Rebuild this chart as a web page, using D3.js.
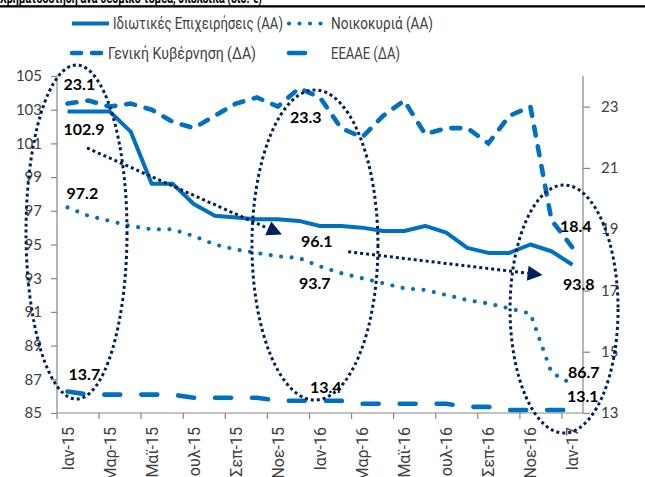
<!DOCTYPE html>
<html>
<head>
<meta charset="utf-8">
<script src="https://cdn.jsdelivr.net/npm/d3@7"></script>
<style>
  html, body { margin: 0; padding: 0; background: #fff; overflow: hidden; }
  svg { display: block; }
</style>
</head>
<body>
<svg id="chart" width="645" height="477"></svg>
<script>
// ---------- DATA ----------
const months = ["Ιαν-15","Φεβ-15","Μαρ-15","Απρ-15","Μαϊ-15","Ιουν-15","Ιουλ-15","Αυγ-15","Σεπ-15","Οκτ-15","Νοε-15","Δεκ-15",
                "Ιαν-16","Φεβ-16","Μαρ-16","Απρ-16","Μαϊ-16","Ιουν-16","Ιουλ-16","Αυγ-16","Σεπ-16","Οκτ-16","Νοε-16","Δεκ-16","Ιαν-17"];
const business   = [102.9,102.9,102.9,101.7,98.6,98.6,97.4,96.7,96.6,96.5,96.5,96.4,96.1,96.1,96.0,95.8,95.8,96.1,95.7,94.8,94.5,94.5,95.0,94.6,93.8];
const households = [97.2,96.7,96.4,96.1,95.9,95.9,95.5,95.0,94.7,94.5,94.3,94.2,93.7,93.3,93.0,92.7,92.4,92.3,92.0,91.7,91.5,91.2,90.9,87.4,86.7];
const government = [23.1,23.2,23.0,23.1,22.9,22.5,22.3,22.7,23.1,23.3,23.0,23.6,23.3,22.3,22.0,22.7,23.2,22.1,22.3,22.3,21.8,22.7,23.0,19.3,18.4];
const eeaae      = [13.7,13.6,13.6,13.6,13.6,13.6,13.5,13.5,13.5,13.5,13.4,13.4,13.4,13.4,13.3,13.3,13.3,13.3,13.3,13.2,13.2,13.1,13.1,13.1,13.1];
const leftTicks  = [85,87,89,91,93,95,97,99,101,103,105];
const rightTicks = [13,15,17,19,21,23];
const seriesNames = ["Ιδιωτικές Επιχειρήσεις (ΑΑ)","Νοικοκυριά (ΑΑ)","Γενική Κυβέρνηση (ΔΑ)","ΕΕΑΑΕ (ΔΑ)"];
const titleText = "Χρηματοδότηση ανά θεσμικό τομέα, υπόλοιπα (δισ. €)";

// ---------- SETUP ----------
const svg = d3.select("#chart");
const BLUE = "#0070C0", NAVY = "#002060", AXIS = "#868686", TXT = "#404040";
const NUMFONT = "Lato, 'Open Sans', sans-serif";
const GRFONT = "Roboto, 'Noto Sans', 'Open Sans', sans-serif";

const x = d3.scaleBand().domain(months).range([57, 583]).padding(0);
const xi = d3.scaleLinear().domain([0, months.length]).range([57, 583]);
const xc = i => x(months[i]) + x.bandwidth() / 2;
const yL = d3.scaleLinear().domain([85, 105]).range([413, 76]);
const yR = d3.scaleLinear().domain([13, 24]).range([413, 76]);

svg.append("rect").attr("width", 645).attr("height", 477).attr("fill", "#fff");

// title (mostly cut off at the top edge, as in the reference) + rule
svg.append("text").attr("x", 0).attr("y", 2.5)
  .attr("font-family", GRFONT).attr("font-weight", "bold").attr("font-size", 15).attr("fill", "#000")
  .attr("textLength", 262).attr("lengthAdjust", "spacingAndGlyphs")
  .text(titleText);
svg.append("rect").attr("x", 0).attr("y", 5.2).attr("width", 645).attr("height", 2.3).attr("fill", "#000");

// ---------- AXES ----------
const gL = svg.append("g").attr("transform", "translate(57,0)")
  .call(d3.axisLeft(yL).tickValues(leftTicks).tickSize(6).tickPadding(9).tickFormat(d3.format("d")));
const gR = svg.append("g").attr("transform", "translate(583,0)")
  .call(d3.axisRight(yR).tickValues(rightTicks).tickSize(7).tickPadding(11).tickFormat(d3.format("d")));
[gL, gR].forEach(g => {
  g.select(".domain").attr("stroke", AXIS).attr("stroke-width", 1.2);
  g.selectAll(".tick line").attr("stroke", AXIS).attr("stroke-width", 1.2);
  g.selectAll(".tick text").attr("font-family", NUMFONT).attr("font-size", 15).attr("fill", TXT);
});
gR.select(".domain").attr("d", `M0,${yR(24)}V${yR(13)}`);
gL.select(".domain").attr("d", `M0,${yL(105)}V${yL(85)}`);

// bottom axis
const gB = svg.append("g");
gB.append("line").attr("x1", 57).attr("x2", 583).attr("y1", 413).attr("y2", 413)
  .attr("stroke", AXIS).attr("stroke-width", 1.2);
const evenIdx = d3.range(0, months.length, 2);
gB.selectAll("line.tk").data(evenIdx).join("line").attr("class", "tk")
  .attr("x1", i => x(months[i])).attr("x2", i => x(months[i]))
  .attr("y1", 413).attr("y2", 419).attr("stroke", AXIS).attr("stroke-width", 1.2);
gB.selectAll("text").data(evenIdx).join("text")
  .attr("transform", i => `translate(${xc(i) + 6},427) rotate(-90)`)
  .attr("text-anchor", "end")
  .attr("font-family", GRFONT).attr("font-size", 16).attr("fill", TXT)
  .text(i => months[i]);

// ---------- SERIES ----------
const lineL = d3.line().x((d, i) => xc(i)).y(d => yL(d));
const lineR = d3.line().x((d, i) => xc(i)).y(d => yR(d));

const styles = {
  business:   { stroke: BLUE, "stroke-width": 4, fill: "none", "stroke-linejoin": "round" },
  households: { stroke: BLUE, "stroke-width": 4.2, fill: "none", "stroke-linecap": "round", "stroke-dasharray": "0,10.5" },
  government: { stroke: BLUE, "stroke-width": 4.6, fill: "none", "stroke-linecap": "round", "stroke-dasharray": "9,11" },
  eeaae:      { stroke: BLUE, "stroke-width": 4.6, fill: "none", "stroke-linecap": "round", "stroke-dasharray": "16,21" }
};
function applyStyle(sel, st) { Object.entries(st).forEach(([k, v]) => sel.attr(k, v)); return sel; }

applyStyle(svg.append("path").attr("d", lineR(eeaae)), styles.eeaae);
applyStyle(svg.append("path").attr("d", lineR(government)), styles.government);
applyStyle(svg.append("path").attr("d", lineL(households)), styles.households);
applyStyle(svg.append("path").attr("d", lineL(business)), styles.business);

// ---------- LEGEND ----------
const legendItems = [
  { name: seriesNames[0], st: styles.business,   x: 72,  y: 23.5, tx: 113, w: 170 },
  { name: seriesNames[1], st: styles.households, x: 289, y: 23.5, tx: 331, w: 102 },
  { name: seriesNames[2], st: styles.government, x: 72,  y: 53,   tx: 108, w: 148 },
  { name: seriesNames[3], st: styles.eeaae,      x: 289, y: 53,   tx: 331, w: 69 }
];
const lg = svg.append("g");
legendItems.forEach(it => {
  applyStyle(lg.append("line").attr("x1", it.x).attr("x2", it.x + 37).attr("y1", it.y).attr("y2", it.y), it.st)
    .attr("fill", null);
  lg.append("text").attr("x", it.tx).attr("y", it.y + 5.8)
    .attr("font-family", GRFONT).attr("font-size", 16).attr("fill", TXT)
    .attr("textLength", it.w).attr("lengthAdjust", "spacingAndGlyphs")
    .text(it.name);
});

// ---------- ANNOTATIONS ----------
const ellipses = [
  { cx: xi(0.927), cy: yL(95.74), rx: 50.5, ry: 167 },
  { cx: xi(12.26), cy: yL(94.97), rx: 63,   ry: 155 },
  { cx: xi(24.1),  cy: yL(91.17), rx: 54,   ry: 124 }
];
svg.selectAll("ellipse.ann").data(ellipses).join("ellipse").attr("class", "ann")
  .attr("cx", d => d.cx).attr("cy", d => d.cy).attr("rx", d => d.rx).attr("ry", d => d.ry)
  .attr("fill", "none").attr("stroke", NAVY).attr("stroke-width", 3).attr("stroke-dasharray", "3,3");

const arrows = [
  { x1: xi(1.426), y1: yL(100.73), x2: xi(10.69), y2: yL(95.59) },
  { x1: xi(13.84), y1: yL(94.57),  x2: xi(23.08), y2: yL(93.19) }
];
arrows.forEach(a => {
  const ang = Math.atan2(a.y2 - a.y1, a.x2 - a.x1);
  const L = 15, W = 7.5;
  const bx = a.x2 - L * Math.cos(ang), by = a.y2 - L * Math.sin(ang);
  svg.append("line").attr("x1", a.x1).attr("y1", a.y1).attr("x2", bx).attr("y2", by)
    .attr("stroke", NAVY).attr("stroke-width", 3).attr("stroke-dasharray", "3,3");
  const px = -Math.sin(ang), py = Math.cos(ang);
  svg.append("polygon")
    .attr("points", [[a.x2, a.y2], [bx + px * W, by + py * W], [bx - px * W, by - py * W]].map(p => p.join(",")).join(" "))
    .attr("fill", NAVY);
});

// data labels
const labels = [
  { s: government, i: 0,  ax: "R", dx: -4,   dy: -13.5 },
  { s: business,   i: 0,  ax: "L", dx: -4,   dy: 24 },
  { s: households, i: 0,  ax: "L", dx: -1,   dy: -8.5 },
  { s: eeaae,      i: 0,  ax: "R", dx: 1,    dy: -11.5 },
  { s: government, i: 12, ax: "R", dx: -30,  dy: 26 },
  { s: business,   i: 12, ax: "L", dx: -19,  dy: 21.5 },
  { s: households, i: 12, ax: "L", dx: -21,  dy: 22.7 },
  { s: eeaae,      i: 12, ax: "R", dx: -10,  dy: -7.4 },
  { s: government, i: 24, ax: "R", dx: -12.5,dy: -15.3 },
  { s: business,   i: 24, ax: "L", dx: -9.5, dy: 25.3 },
  { s: households, i: 24, ax: "L", dx: -4.5, dy: -6.3 },
  { s: eeaae,      i: 24, ax: "R", dx: -5.5, dy: -8.2 }
];
svg.selectAll("text.dl").data(labels).join("text").attr("class", "dl")
  .attr("x", d => xc(d.i) + d.dx)
  .attr("y", d => (d.ax === "L" ? yL(d.s[d.i]) : yR(d.s[d.i])) + d.dy)
  .attr("font-family", NUMFONT).attr("font-weight", "bold").attr("font-size", 16).attr("fill", "#000")
  .text(d => d3.format(".1f")(d.s[d.i]));
</script>
</body>
</html>
